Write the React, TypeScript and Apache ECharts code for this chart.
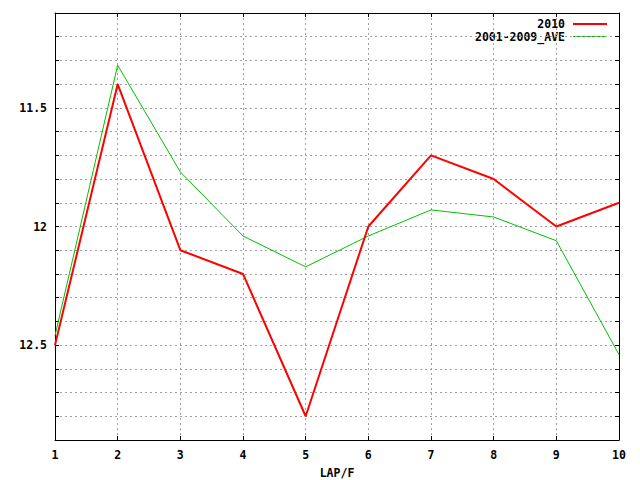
import React, { useEffect, useRef } from "react";
import * as echarts from "echarts";

const laps = ["1", "2", "3", "4", "5", "6", "7", "8", "9", "10"];
const series2010 = [12.5, 11.4, 12.1, 12.2, 12.8, 12.0, 11.7, 11.8, 12.0, 11.9];
const seriesAve = [12.46, 11.32, 11.77, 12.04, 12.17, 12.04, 11.93, 11.96, 12.06, 12.54];
const yLabels = [11.5, 12, 12.5];

const FONT = "'DejaVu Sans Mono', monospace";

const App = () => {
  const chartRef = useRef<HTMLDivElement>(null);

  useEffect(() => {
    if (!chartRef.current) return;
    const chart = echarts.init(chartRef.current, undefined, { renderer: "svg" });

    const gridLine = {
      show: true,
      lineStyle: { color: "#a0a0a0", type: [2, 3] as number[], width: 1 },
    };
    const frame = { show: true, lineStyle: { color: "#000", width: 1 } };
    const tick = { show: true, inside: true, length: 4, lineStyle: { color: "#000" } };
    const labelText = {
      fontFamily: FONT,
      fontWeight: "bold" as const,
      fontSize: 11.5,
      color: "#000",
    };

    const showLabel = (v: number) =>
      yLabels.some((l) => Math.abs(l - v) < 1e-6) ? String(+v.toFixed(1)) : "";

    const option: echarts.EChartsOption = {
      animation: false,
      backgroundColor: "#fff",
      grid: {
        left: 55,
        right: 21,
        top: 13,
        bottom: 40,
        containLabel: false,
        outerBoundsMode: "none",
      } as any,
      xAxis: [
        {
          type: "category",
          data: laps,
          boundaryGap: false,
          axisLine: frame,
          axisTick: { ...tick, alignWithLabel: true },
          splitLine: gridLine,
          axisLabel: { ...labelText, margin: 9 },
          name: "LAP/F",
          nameLocation: "middle",
          nameGap: 27,
          nameTextStyle: labelText,
        },
        {
          type: "category",
          data: laps,
          boundaryGap: false,
          position: "top",
          axisLine: frame,
          axisTick: tick,
          axisLabel: { show: false },
          splitLine: { show: false },
        },
      ],
      yAxis: [
        {
          type: "value",
          inverse: true,
          min: 11.1,
          max: 12.9,
          interval: 0.1,
          axisLine: frame,
          axisTick: tick,
          splitLine: gridLine,
          axisLabel: { ...labelText, margin: 8, formatter: showLabel },
        },
        {
          type: "value",
          inverse: true,
          min: 11.1,
          max: 12.9,
          interval: 0.1,
          position: "right",
          axisLine: frame,
          axisTick: tick,
          splitLine: { show: false },
          axisLabel: { show: false },
        },
      ],
      series: [
        {
          name: "2001-2009_AVE",
          type: "line",
          data: seriesAve,
          showSymbol: false,
          symbol: "none",
          lineStyle: { color: "#00c000", width: 1 },
          z: 2,
        },
        {
          name: "2010",
          type: "line",
          data: series2010,
          showSymbol: false,
          symbol: "none",
          lineStyle: { color: "#ff0000", width: 2 },
          z: 3,
        },
      ],
      graphic: [
        {
          type: "text",
          x: 565,
          y: 24,
          style: {
            text: "2010",
            align: "right",
            verticalAlign: "middle",
            font: `bold 11.5px ${FONT}`,
            fill: "#000",
          },
        },
        {
          type: "line",
          shape: { x1: 573, y1: 24, x2: 607, y2: 24 },
          style: { stroke: "#ff0000", lineWidth: 2 },
        },
        {
          type: "text",
          x: 565,
          y: 37,
          style: {
            text: "2001-2009_AVE",
            align: "right",
            verticalAlign: "middle",
            font: `bold 11.5px ${FONT}`,
            fill: "#000",
          },
        },
        {
          type: "line",
          shape: { x1: 573, y1: 36.5, x2: 606, y2: 36.5 },
          style: { stroke: "#00c000", lineWidth: 1 },
        },
      ],
    };

    chart.setOption(option);
    return () => chart.dispose();
  }, []);

  return (
    <div
      ref={chartRef}
      style={{ position: "fixed", left: 0, top: 0, width: 640, height: 480 }}
    />
  );
};

export default App;
